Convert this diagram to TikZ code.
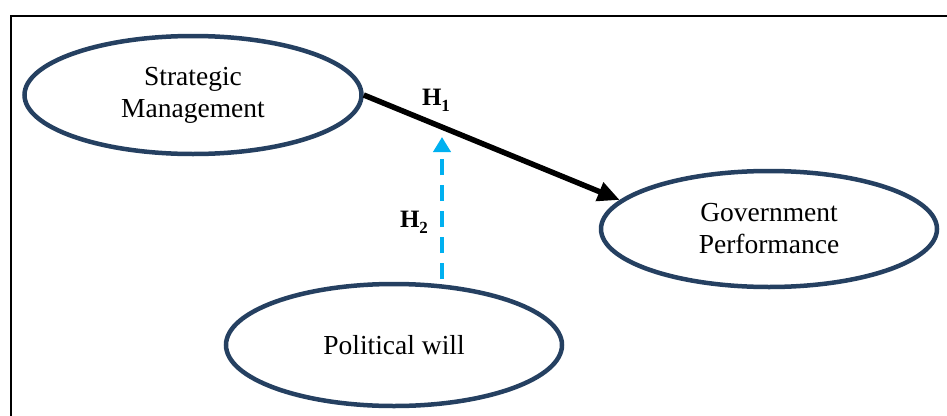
\documentclass[tikz,border=0pt]{standalone}
\usepackage{fontspec}
\setmainfont{Liberation Serif}
\usetikzlibrary{shapes.geometric,arrows.meta}
\definecolor{ellblue}{RGB}{37,64,97}
\definecolor{dashblue}{RGB}{0,176,240}
\tikzset{
  construct/.style={ellipse, draw=ellblue, line width=4.5pt, inner sep=0pt,
    align=center, font=\fontsize{27.5}{32}\selectfont},
  hlabel/.style={inner sep=0pt, font=\fontsize{25}{25}\selectfont\bfseries},
  mainarrow/.style={line width=5.5pt, draw=black, -{Triangle[length=22pt,width=19pt]}},
  modarrow/.style={line width=4.5pt, draw=dashblue, dash pattern=on 16pt off 10pt,
    -{Triangle[length=15pt,width=17pt]}}
}
\newcommand{\hsub}[2]{#1\raisebox{-0.25em}{\fontsize{17}{17}\selectfont #2}}
\begin{document}
\begin{tikzpicture}[x=1pt,y=-1pt]
\useasboundingbox (0,0) rectangle (947,415);
\clip (0,0) rectangle (947,415);
\fill[white] (0,0) rectangle (947,415);
\draw[line width=2.5pt] (11,16) rectangle (1000,500);
\node[construct, minimum width=337pt, minimum height=118pt] (sm) at (193,95) {Strategic\\Management};
\node[construct, minimum width=336pt, minimum height=116pt] (gp) at (769,229) {Government\\Performance};
\node[construct, minimum width=336pt, minimum height=122pt] (pw) at (394,345) {Political will};
\draw[mainarrow] (sm.east) -- (gp.169);
\coordinate (h2s) at (442,279);
\coordinate (h2e) at (442,137);
\draw[modarrow] (h2s) -- (h2e);
\node[hlabel] (h1) at (436,100) {\hsub{H}{1}};
\node[hlabel] (h2) at (414,222) {\hsub{H}{2}};
\end{tikzpicture}
\end{document}
